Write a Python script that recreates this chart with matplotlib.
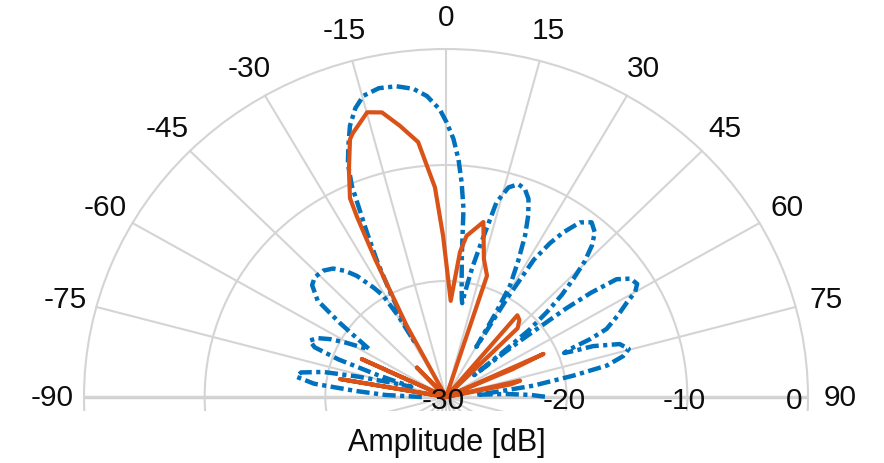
import numpy as np
import matplotlib.pyplot as plt
from matplotlib.patches import Rectangle

plt.rcParams['font.family'] = ['Liberation Sans', 'DejaVu Sans']
plt.rcParams['lines.scale_dashes'] = False

# Pattern: angle in degrees, amplitude in dB
blue_deg = [-90, -88, -86, -84, -82, -80, -78, -76.5, -74.5, -73,
            -71.5, -70, -68.5, -66.7, -64.5, -62.5, -60.5, -58.5, -57, -55.5,
            -54, -52, -49, -46.5, -43, -40.2, -37.5, -35.3, -32.5, -30.8,
            -29.5, -28.8, -28, -27.1, -26, -24.8, -23.2, -22, -20.5, -18.8,
            -16.8, -14.8, -11.8, -8.7, -5.8, -3.5, -1.2, 0.1, 1.6, 2.9,
            4.0, 5.1, 6.1, 7.3, 8.8, 9.4, 9.9, 11, 12.2, 14,
            16, 18.1, 20, 21.8, 23.5, 25.2, 27, 28.9, 29.6, 30.2,
            30.8, 31.6, 33, 34.4, 36.4, 38.7, 41, 42.8, 44.5, 46,
            47.5, 48.8, 50, 50.6, 51, 51.8, 52.5, 53.2, 54.3, 56.3,
            58.4, 60, 61.4, 63.5, 66.2, 67.3, 68.1, 68.8, 69.5, 70.2,
            72.4, 74.7, 76.5, 78.5, 80.1, 82.3, 84.1, 85.5, 87, 88.5, 90]
blue_db = [-28, -25, -22.5, -19, -17.5, -17.8, -19.6, -22.4, -25.5, -27,
           -24, -20.5, -18.3, -17.7, -18.2, -19.2, -20.5, -21.8, -22.4, -21,
           -19.1, -16.5, -15.3, -15.0, -15.1, -15.5, -16.3, -17.2, -18.8, -19.8,
           -22, -24.5, -22, -19.8, -17, -14.4, -10.2, -8.3, -6.9, -5.3,
           -4.0, -3.15, -2.8, -2.9, -3.3, -4.0, -5.2, -6.3, -7.75, -9.5,
           -11.45, -13.7, -17.6, -19.8, -21.45, -21.8, -20.8, -18.7, -16.7, -12.7,
           -11.2, -10.7, -10.9, -11.6, -12.9, -14.6, -16.8, -19.0, -21.5, -25,
           -20, -16.1, -14.2, -12.8, -11.3, -10.7, -11.2, -12.2, -13.6, -15.3,
           -17, -18.9, -21, -24, -27, -22, -17.5, -15, -12.6, -11.6,
           -11.4, -11.9, -12.9, -14, -15.45, -17, -18.9, -19.5, -18.6, -17.05,
           -14.9, -14.3, -14.9, -16.4, -19.3, -22.7, -26, -27.5, -25, -23, -21.6]

orange_deg = [-90, -83, -80, -77, -68, -64.9, -62, -46, -43.5, -41,
              -29.5, -27.9, -26.3, -25.4, -24.9, -22.3, -19.7, -18.8, -14.9, -12.2,
              -9.3, -6.0, -2.9, -1.0, 2.7, 5.3, 7.0, 11.6, 14.8, 18.0,
              18.8, 38.5, 40, 42.5, 45, 47, 63.5, 65.3, 66.5, 68,
              75, 77.1, 78.5, 80, 90]
orange_db = [-30, -30, -21.1, -30, -30, -22.3, -30, -30, -26.5, -30,
             -30, -23, -16.8, -12.8, -11.1, -8.8, -6.4, -6.0, -4.6, -4.9,
             -6.3, -7.9, -11.9, -16.1, -21.7, -17.45, -16.0, -14.6, -17.7, -19.0,
             -30, -30, -20.8, -21.0, -21.6, -30, -30, -21.1, -24, -30,
             -30, -23.7, -24.5, -30, -30]

theta_ticks = np.arange(0, 360, 15)
theta_labels = [str(a) if a <= 90 else (str(a - 360) if a >= 270 else '') for a in theta_ticks]
r_ticks = [-30, -20, -10, 0]

text_col = '#0d0d0d'
grid_col = '#d4d4d4'

fig = plt.figure(figsize=(8.84, 4.64), dpi=100)
# full polar axes, centre near the bottom; lower half is cut away
ax = fig.add_axes([0.09502, -0.6078, 0.819, 1.5], projection='polar')
ax.set_aspect('auto')
ax.set_theta_zero_location('N')
ax.set_theta_direction(-1)
ax.set_rlim(-30, 0)
ax.set_thetagrids(theta_ticks, theta_labels, fontsize=21.5, color=text_col)
ax.set_rgrids(r_ticks, labels=[''] * len(r_ticks))
ax.spines['polar'].set_visible(False)
ax.tick_params(axis='x', pad=16, length=0)
ax.tick_params(axis='y', length=0)
ax.grid(True, color=grid_col, lw=1.5)

clip = Rectangle((0, 0.112), 1, 0.888, transform=fig.transFigure,
                 facecolor='none', edgecolor='none')
for gl in ax.xaxis.get_gridlines() + ax.yaxis.get_gridlines():
    gl.set_clip_path(clip)

# horizontal axis line
for a in (-90, 90):
    ax.axvline(np.deg2rad(a), color='#cfcfcf', lw=2.4, zorder=1.5)

ax.plot(np.deg2rad(blue_deg), blue_db, color='#0072BD', lw=3.2,
        ls=(0, (9.5, 3.2, 3, 3.2)), zorder=3)
ax.plot(np.deg2rad(orange_deg), orange_db, color='#D95319', lw=3.0, zorder=4)

# radial labels along the 90 deg direction
for r in r_ticks:
    if r == 0:
        ax.annotate('0', xy=(np.pi / 2, r), xytext=(-4, -2), textcoords='offset points',
                    ha='right', va='center', fontsize=21.5, color=text_col, zorder=5)
    else:
        ax.annotate(str(r), xy=(np.pi / 2, r), xytext=(-2, -2), textcoords='offset points',
                    ha='center', va='center', fontsize=21.5, color=text_col, zorder=5)

fig.text(0.5053, 0.027, 'Amplitude [dB]', ha='center', va='baseline',
         fontsize=22, color=text_col)

fig.savefig('out.png', dpi=100)
